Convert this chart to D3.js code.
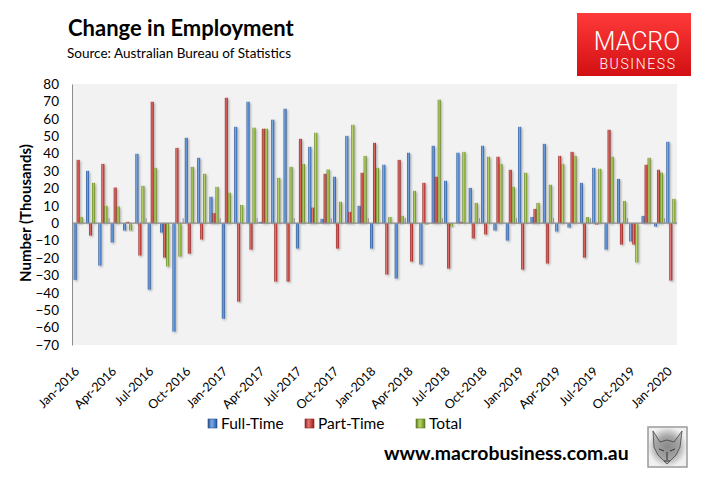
<!DOCTYPE html>
<html>
<head>
<meta charset="utf-8">
<script src="https://cdn.jsdelivr.net/npm/d3@7"></script>
<style>
  body { margin: 0; background: #fff; }
  svg { display: block; }
</style>
</head>
<body>
<div id="grafico"></div>
<script>
// Meses (eje de categorias)
const months = [
  "Jan-2016","Feb-2016","Mar-2016","Apr-2016","May-2016","Jun-2016","Jul-2016","Aug-2016","Sep-2016","Oct-2016","Nov-2016","Dec-2016",
  "Jan-2017","Feb-2017","Mar-2017","Apr-2017","May-2017","Jun-2017","Jul-2017","Aug-2017","Sep-2017","Oct-2017","Nov-2017","Dec-2017",
  "Jan-2018","Feb-2018","Mar-2018","Apr-2018","May-2018","Jun-2018","Jul-2018","Aug-2018","Sep-2018","Oct-2018","Nov-2018","Dec-2018",
  "Jan-2019","Feb-2019","Mar-2019","Apr-2019","May-2019","Jun-2019","Jul-2019","Aug-2019","Sep-2019","Oct-2019","Nov-2019","Dec-2019",
  "Jan-2020"
];

// Etiquetas visibles del eje x (cada 3 meses)
const xTickLabels = ["Jan-2016","Apr-2016","Jul-2016","Oct-2016","Jan-2017","Apr-2017","Jul-2017","Oct-2017",
  "Jan-2018","Apr-2018","Jul-2018","Oct-2018","Jan-2019","Apr-2019","Jul-2019","Oct-2019","Jan-2020"];

const yTicks = [-70,-60,-50,-40,-30,-20,-10,0,10,20,30,40,50,60,70,80];

// Cambio mensual en miles
const fullTime = [
  -32.6, 30.1, -24.4, -11.1, -4.2, 39.9, -38.2, -5.4, -62.3, 49.1, 37.6, 15.2,
  -54.9, 55.4, 69.8, 0.8, 59.5, 65.8, -14.6, 43.9, 2.5, 26.7, 50.2, 10.0,
  -14.6, 33.6, -31.8, 40.5, -23.8, 44.5, 24.4, 40.5, 20.3, 44.5, -4.2, -10.0,
  55.4, 3.6, 45.6, -4.8, -2.5, 23.2, 31.8, -15.2, 25.5, -10.5, 4.2, -1.9,
  46.8
];
const partTime = [
  36.4, -7.1, 34.1, 20.5, 0.8, -18.6, 69.8, -19.8, 43.3, -17.5, -9.4, 5.8,
  72.1, -45.1, -15.2, 54.3, -33.6, -33.6, 48.5, 9.0, 28.4, -14.6, 6.5, 29.0,
  46.2, -29.5, 36.4, -22.1, 23.2, 26.7, -26.1, 0.8, -8.8, -6.5, 38.2, 30.7,
  -26.7, 8.2, -23.2, 38.7, 41.0, -19.8, -0.8, 53.7, -12.3, -12.3, 33.6, 30.7,
  -33.0
];
const total = [
  3.6, 23.2, 10.0, 9.6, -4.2, 21.5, 31.8, -24.9, -19.2, 32.4, 28.4, 20.9,
  17.5, 10.5, 54.9, 54.3, 26.1, 32.4, 34.1, 52.0, 30.9, 12.3, 56.6, 38.7,
  31.8, 3.6, 4.2, 18.6, -0.8, 71.0, -1.9, 41.0, 11.7, 38.2, 34.1, 20.9,
  29.0, 11.7, 22.1, 34.1, 38.7, 3.6, 31.3, 38.2, 12.8, -22.6, 37.6, 29.0,
  14.0
];

const seriesNames = ["Full-Time", "Part-Time", "Total"];
const seriesValues = [fullTime, partTime, total];
// colores: borde oscuro, centro claro
const seriesColors = [
  { id: "gFT", dark: "#244f8c", mid: "#4f86cf", light: "#7fa9e0" },
  { id: "gPT", dark: "#8e2320", mid: "#c9403c", light: "#e07a76" },
  { id: "gTO", dark: "#5e7a22", mid: "#8fb43c", light: "#b7d36e" }
];

const width = 711, height = 489;
const plot = { left: 72, right: 677, top: 84, bottom: 345 };

const svg = d3.select("#grafico").append("svg")
  .attr("width", width)
  .attr("height", height);

const defs = svg.append("defs");
seriesColors.forEach(c => {
  const g = defs.append("linearGradient").attr("id", c.id)
    .attr("x1", "0%").attr("x2", "100%").attr("y1", "0%").attr("y2", "0%");
  g.append("stop").attr("offset", "0%").attr("stop-color", c.dark);
  g.append("stop").attr("offset", "40%").attr("stop-color", c.light);
  g.append("stop").attr("offset", "70%").attr("stop-color", c.mid);
  g.append("stop").attr("offset", "100%").attr("stop-color", c.dark);
});
const sombra = defs.append("filter").attr("id", "sombra")
  .attr("x", "-50%").attr("y", "-10%").attr("width", "250%").attr("height", "130%");
sombra.append("feDropShadow").attr("dx", 1.2).attr("dy", 1.2)
  .attr("stdDeviation", 0.9).attr("flood-color", "#000").attr("flood-opacity", 0.3);

const logoGrad = defs.append("linearGradient").attr("id", "logoGrad")
  .attr("x1", "0%").attr("x2", "0%").attr("y1", "0%").attr("y2", "100%");
logoGrad.append("stop").attr("offset", "0%").attr("stop-color", "#ff3a3a");
logoGrad.append("stop").attr("offset", "100%").attr("stop-color", "#d20f12");

const wolfGrad = defs.append("radialGradient").attr("id", "wolfGrad");
wolfGrad.append("stop").attr("offset", "0%").attr("stop-color", "#7a7a7a");
wolfGrad.append("stop").attr("offset", "55%").attr("stop-color", "#a8a8a8");
wolfGrad.append("stop").attr("offset", "100%").attr("stop-color", "#f0f0f0");

// Escalas
const x0 = d3.scaleBand()
  .domain(months)
  .range([plot.left, plot.right])
  .paddingInner(0).paddingOuter(0);

const x1 = d3.scaleBand()
  .domain(seriesNames)
  .range([0, x0.bandwidth()])
  .paddingInner(0).paddingOuter(0.56);

const y = d3.scaleLinear()
  .domain([-70, 80])
  .range([plot.bottom, plot.top]);

// Fondo del area de trazado
svg.append("rect")
  .attr("x", plot.left).attr("y", plot.top)
  .attr("width", plot.right - plot.left)
  .attr("height", plot.bottom - plot.top)
  .attr("fill", "#f2f2f2");

// Eje y
const yAxis = d3.axisLeft(y).tickValues(yTicks).tickSize(0).tickPadding(13);
const gy = svg.append("g")
  .attr("transform", `translate(${plot.left},0)`)
  .call(yAxis);
gy.select(".domain").attr("stroke", "#8c8c8c");
gy.selectAll("text")
  .attr("font-family", "Lato, 'Open Sans', sans-serif")
  .attr("font-size", 13.5)
  .attr("fill", "#000");

// Barras
const data = [];
months.forEach((m, i) => {
  seriesNames.forEach((s, j) => {
    data.push({ month: m, serie: s, value: seriesValues[j][i], color: seriesColors[j] });
  });
});

svg.append("g").selectAll("rect")
  .data(data)
  .enter()
  .append("rect")
  .attr("x", d => x0(d.month) + x1(d.serie))
  .attr("y", d => y(Math.max(0, d.value)))
  .attr("width", x1.bandwidth())
  .attr("height", d => Math.abs(y(d.value) - y(0)))
  .attr("fill", d => `url(#${d.color.id})`)
  .attr("filter", "url(#sombra)");

// Linea del cero con marcas cada 3 meses
svg.append("line")
  .attr("x1", plot.left).attr("x2", plot.right)
  .attr("y1", y(0)).attr("y2", y(0))
  .attr("stroke", "#8c8c8c").attr("stroke-width", 1.2);

svg.append("g").selectAll("line")
  .data(months.filter((m, i) => i % 3 === 0 && i > 0))
  .enter()
  .append("line")
  .attr("x1", d => x0(d)).attr("x2", d => x0(d))
  .attr("y1", y(0) - 5).attr("y2", y(0))
  .attr("stroke", "#8c8c8c").attr("stroke-width", 1);

// Etiquetas del eje x rotadas
svg.append("g").selectAll("text")
  .data(xTickLabels)
  .enter()
  .append("text")
  .attr("transform", d => `translate(${x0(d) + x0.bandwidth() / 2 + 2},${plot.bottom + 27}) rotate(-45)`)
  .attr("text-anchor", "end")
  .attr("font-family", "Lato, 'Open Sans', sans-serif")
  .attr("font-size", 12.5)
  .attr("fill", "#000")
  .text(d => d);

// Titulo del eje y
svg.append("text")
  .attr("transform", `translate(31,213) rotate(-90)`)
  .attr("text-anchor", "middle")
  .attr("font-family", "Lato, 'Open Sans', sans-serif")
  .attr("font-weight", "bold")
  .attr("font-size", 15)
  .attr("fill", "#000")
  .text("Number (Thousands)");

// Titulo y fuente
svg.append("text")
  .attr("x", 68).attr("y", 36)
  .attr("font-family", "Lato, 'Open Sans', sans-serif")
  .attr("font-weight", "bold")
  .attr("font-size", 22)
  .attr("fill", "#000")
  .text("Change in Employment");

svg.append("text")
  .attr("x", 67).attr("y", 58)
  .attr("font-family", "Lato, 'Open Sans', sans-serif")
  .attr("font-size", 13.5)
  .attr("fill", "#000")
  .text("Source: Australian Bureau of Statistics");

// Leyenda
const legendX = [208, 305, 416];
const legend = svg.append("g").selectAll("g")
  .data(seriesNames)
  .enter()
  .append("g")
  .attr("transform", (d, i) => `translate(${legendX[i]},419)`);
legend.append("rect")
  .attr("width", 9).attr("height", 9)
  .attr("fill", (d, i) => `url(#${seriesColors[i].id})`)
  .attr("stroke", (d, i) => seriesColors[i].dark).attr("stroke-width", 0.6);
legend.append("text")
  .attr("x", 13).attr("y", 10)
  .attr("font-family", "Lato, 'Open Sans', sans-serif")
  .attr("font-size", 15.5)
  .attr("fill", "#000")
  .text(d => d);

// Sitio web
svg.append("text")
  .attr("x", 384).attr("y", 460)
  .attr("font-family", "Lato, 'Open Sans', sans-serif")
  .attr("font-weight", "bold")
  .attr("font-size", 19.4)
  .attr("fill", "#000")
  .text("www.macrobusiness.com.au");

// Logo MACRO BUSINESS
svg.append("rect")
  .attr("x", 577).attr("y", 13).attr("width", 114).attr("height", 63)
  .attr("fill", "url(#logoGrad)");
svg.append("text")
  .attr("x", 637).attr("y", 50)
  .attr("text-anchor", "middle")
  .attr("font-family", "Roboto, 'Noto Sans', sans-serif")
  .attr("font-weight", 300)
  .attr("font-size", 25)
  .attr("fill", "#fff")
  .text("MACRO");
svg.append("text")
  .attr("x", 638).attr("y", 69)
  .attr("text-anchor", "middle")
  .attr("font-family", "Roboto, 'Noto Sans', sans-serif")
  .attr("font-weight", 300)
  .attr("font-size", 14)
  .attr("letter-spacing", 1.6)
  .attr("fill", "#fff")
  .text("BUSINESS");

// Recuadro del lobo
svg.append("rect")
  .attr("x", 648).attr("y", 427).attr("width", 39).attr("height", 40)
  .attr("fill", "url(#wolfGrad)")
  .attr("stroke", "#9a9a9a").attr("stroke-width", 1.5);
svg.append("path")
  .attr("d", "M653,431 L660,442 L667,440 L674,442 L682,431 L680,447 L676,455 L667,464 L658,455 L654,447 Z")
  .attr("fill", "#9a9a9a").attr("fill-opacity", 0.5)
  .attr("stroke", "#444").attr("stroke-width", 0.8);
svg.append("path")
  .attr("d", "M659,449 L664,451 M675,449 L670,451 M667,452 L667,460 M664,461 L670,461")
  .attr("stroke", "#333").attr("stroke-width", 1);
</script>
</body>
</html>
